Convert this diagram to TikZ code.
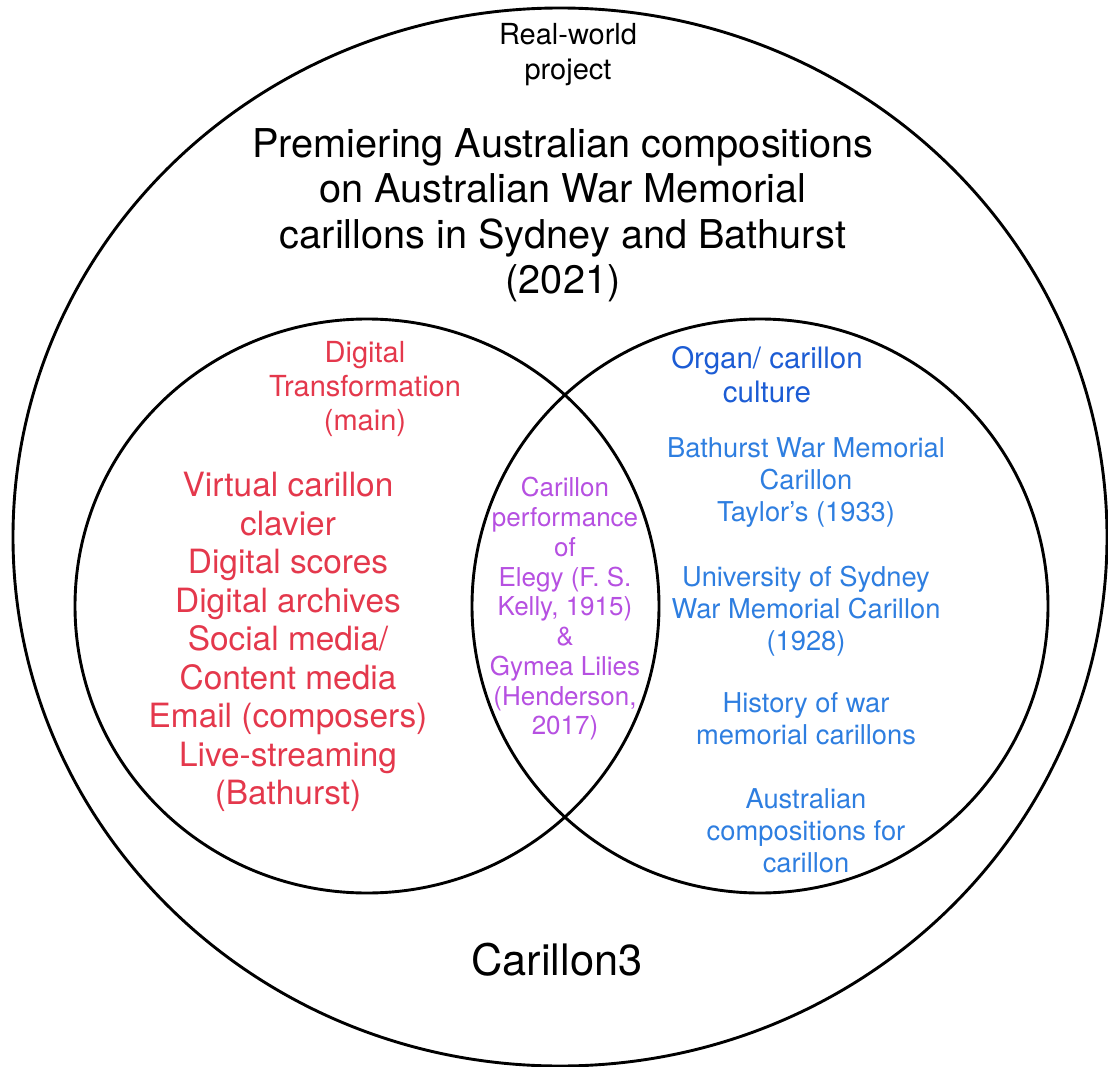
\documentclass[tikz,border=0pt]{standalone}
\usepackage{fontspec}
\setmainfont{TeX Gyre Heros}
\definecolor{dtred}{RGB}{228,56,76}
\definecolor{lenspurple}{RGB}{182,80,225}
\definecolor{culthead}{RGB}{28,92,212}
\definecolor{cultblue}{RGB}{46,126,224}

\begin{document}
\begin{tikzpicture}[x=1pt, y=-1pt,
    ring/.style={draw=black, line width=2.9pt},
    txt/.style={align=center, inner sep=0pt}]
            \clip (0,0) rectangle (1108,1067); % page of the reference

            % The three sets
            \draw[ring] (560,537) ellipse [x radius=547pt, y radius=529pt]; % outer set
            \draw[ring] (367,606) ellipse [x radius=292pt, y radius=287pt]; % left set
            \draw[ring] (760,606) ellipse [x radius=288pt, y radius=287pt]; % right set

            % Outer set: project
            \node[txt, font=\fontsize{29}{35}\selectfont] (realworld) at (568,55) {Real-world\\project};
            \node[txt, font=\fontsize{39.7}{45.5}\selectfont] (title) at (563,215) {Premiering Australian compositions\\on Australian War Memorial\\carillons in Sydney and Bathurst\\(2021)};
            \node[txt, font=\fontsize{43.4}{50}\selectfont] (carillon) at (557,960) {Carillon3};

            % Left set: digital transformation
            \node[txt, text=dtred, font=\fontsize{29}{34}\selectfont] (dthead) at (365,389) {Digital\\Transformation\\(main)};
            \node[txt, text=dtred, font=\fontsize{33.4}{38.5}\selectfont] (dtlist) at (288,642) {Virtual carillon\\clavier\\Digital scores\\Digital archives\\Social media/\\Content media\\Email (composers)\\Live-streaming\\(Bathurst)};

            % Overlap of the two sets
            \node[txt, text=lenspurple, font=\fontsize{26}{29.75}\selectfont] (perform) at (565,609) {Carillon\\performance\\of\\Elegy (F. S.\\Kelly, 1915)\\\&\\Gymea Lilies\\(Henderson,\\2017)};

            % Right set: organ/ carillon culture
            \node[txt, text=culthead, font=\fontsize{29.5}{34}\selectfont] (culthead) at (767,375) {Organ/ carillon\\culture};
            \node[txt, text=cultblue, font=\fontsize{27.3}{32}\selectfont] (bathurst) at (806,483) {Bathurst War Memorial\\Carillon\\Taylor’s (1933)};
            \node[txt, text=cultblue, font=\fontsize{27.3}{32}\selectfont] (sydney) at (806,611) {University of Sydney\\War Memorial Carillon\\(1928)};
            \node[txt, text=cultblue, font=\fontsize{27.3}{32}\selectfont] (history) at (806,719) {History of war\\memorial carillons};
            \node[txt, text=cultblue, font=\fontsize{27.3}{32}\selectfont] (compositions) at (806,831) {Australian\\compositions for\\carillon};

        \end{tikzpicture}
\end{document}
